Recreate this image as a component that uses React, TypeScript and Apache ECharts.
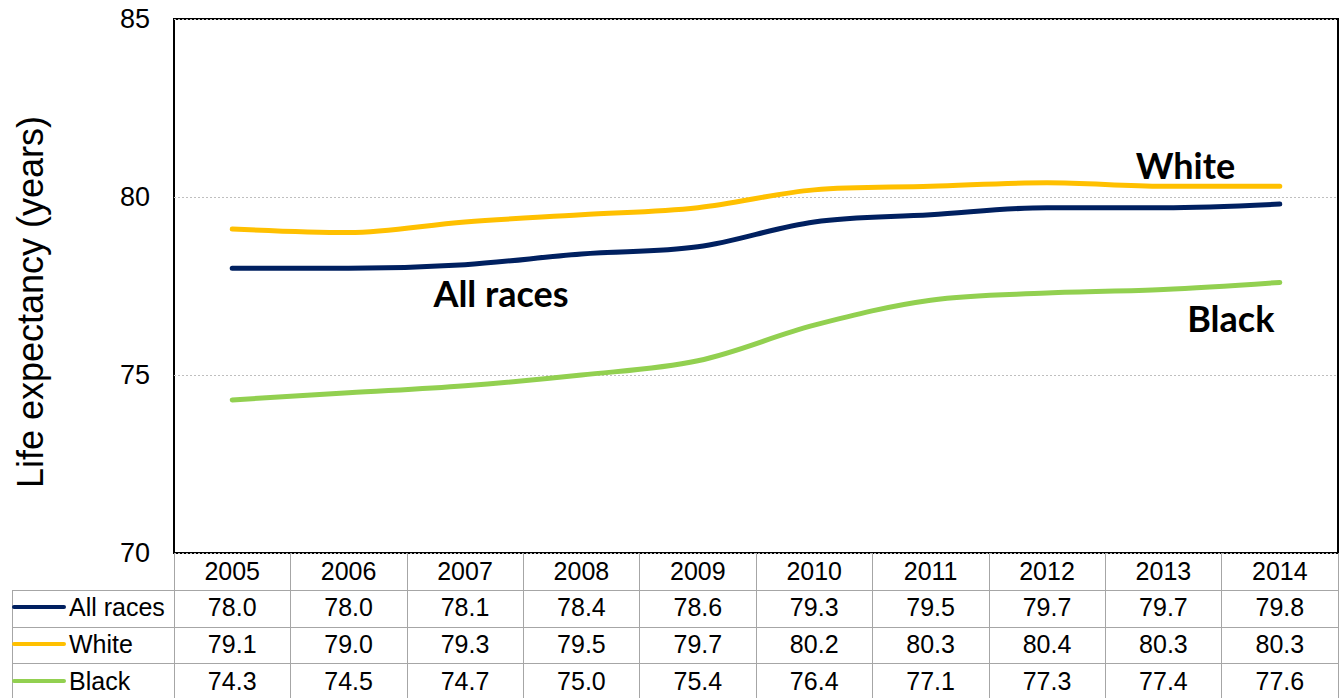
import React, { useEffect, useRef } from "react";
import * as echarts from "echarts";

const years = ["2005", "2006", "2007", "2008", "2009", "2010", "2011", "2012", "2013", "2014"];
const allRaces = [78.0, 78.0, 78.1, 78.4, 78.6, 79.3, 79.5, 79.7, 79.7, 79.8];
const white = [79.1, 79.0, 79.3, 79.5, 79.7, 80.2, 80.3, 80.4, 80.3, 80.3];
const black = [74.3, 74.5, 74.7, 75.0, 75.4, 76.4, 77.1, 77.3, 77.4, 77.6];
const seriesNames = ["All races", "White", "Black"];
const seriesColors = ["#002060", "#FFC000", "#92D050"];
const yTicks = { min: 70, max: 85, interval: 5 };
const yAxisTitle = "Life expectancy (years)";

const FONT = "'Liberation Sans', Arial, sans-serif";
const LABEL_FONT = "Lato, 'Open Sans', sans-serif";
const GRID = { left: 174, right: 6, top: 19, bottom: 145 };
const TABLE_LINE = "#a6a6a6";
const ROW_OFFSETS = [37, 74, 110];
const TABLE_FONT = 25;

export default function App() {
  const ref = useRef<HTMLDivElement>(null);
  useEffect(() => {
    if (!ref.current) return;
    const chart = echarts.init(ref.current, undefined, { renderer: "svg" });
    const rows = [allRaces, white, black];

    const rowAxes = rows.map((vals, i) => ({
      type: "category",
      data: years.map((_, j) => vals[j].toFixed(1)),
      position: "bottom",
      offset: ROW_OFFSETS[i],
      boundaryGap: true,
      axisLine: { show: true, lineStyle: { color: TABLE_LINE, width: 1 } },
      axisTick: { show: false },
      axisLabel: { fontSize: TABLE_FONT, color: "#000", fontFamily: FONT, margin: i === 2 ? 5 : 4, interval: 0 },
      splitLine: { show: false },
    }));

    const legendGraphics: any[] = [];
    const rowTops = [553 + 37, 553 + 74, 553 + 110];
    const rowCenters = [607, 644, 681];
    rowTops.forEach((y) => {
      legendGraphics.push({
        type: "line",
        shape: { x1: 12, y1: y + 0.5, x2: 174, y2: y + 0.5 },
        style: { stroke: TABLE_LINE, lineWidth: 1 },
      });
    });
    legendGraphics.push({
      type: "line",
      shape: { x1: 12.5, y1: 590, x2: 12.5, y2: 698 },
      style: { stroke: TABLE_LINE, lineWidth: 1 },
    });
    seriesNames.forEach((name, i) => {
      legendGraphics.push({
        type: "line",
        shape: { x1: 14, y1: rowCenters[i], x2: 64, y2: rowCenters[i] },
        style: { stroke: seriesColors[i], lineWidth: 4, lineCap: "round" },
      });
      legendGraphics.push({
        type: "text",
        x: 69,
        y: rowCenters[i],
        style: {
          text: name,
          fontSize: TABLE_FONT,
          fontFamily: FONT,
          fill: "#000",
          verticalAlign: "middle",
          align: "left",
        },
      });
    });
    legendGraphics.push({
      type: "text",
      x: 30,
      y: 302,
      rotation: Math.PI / 2,
      style: {
        text: yAxisTitle,
        fontSize: 36,
        fontFamily: FONT,
        fill: "#000",
        align: "center",
        verticalAlign: "middle",
      },
    });

    const labelPoints = [
      { name: "All races", coord: ["2007", 77.3], offset: [36, 0] },
      { name: "White", coord: ["2013", 80.9], offset: [22, 0] },
      { name: "Black", coord: ["2014", 76.6], offset: [-49, 0] },
    ];

    chart.setOption({
      animation: false,
      backgroundColor: "#fff",
      grid: {
        ...GRID,
        show: true,
        borderColor: "#000",
        borderWidth: 2,
        backgroundColor: "transparent",
        containLabel: false,
        outerBoundsMode: "none",
      },
      xAxis: [
        {
          type: "category",
          data: years,
          boundaryGap: true,
          position: "bottom",
          axisLine: { show: false },
          axisTick: {
            show: true,
            length: 145,
            lineStyle: { color: TABLE_LINE, width: 1 },
            interval: 0,
          },
          axisLabel: { fontSize: TABLE_FONT, color: "#000", fontFamily: FONT, margin: 5, interval: 0 },
          splitLine: { show: false },
        },
        ...rowAxes,
      ],
      yAxis: {
        type: "value",
        min: yTicks.min,
        max: yTicks.max,
        interval: yTicks.interval,
        axisLine: { show: false },
        axisTick: { show: false },
        axisLabel: { fontSize: 27, color: "#000", fontFamily: FONT, margin: 24 },
        splitLine: { show: true, lineStyle: { color: "#bfbfbf", type: [2, 2], width: 1 } },
      },
      graphic: legendGraphics,
      series: rows.map((vals, i) => ({
        type: "line",
        name: seriesNames[i],
        data: vals,
        xAxisIndex: 0,
        smooth: 0.35,
        symbol: "none",
        lineStyle: { color: seriesColors[i], width: 5, cap: "round" },
        itemStyle: { color: seriesColors[i] },
        z: 5 - i,
        markPoint:
          i === 0
            ? {
                symbol: "circle",
                symbolSize: 0,
                data: labelPoints.map((p) => ({
                  coord: p.coord,
                  value: p.name,
                  label: {
                    show: true,
                    formatter: p.name,
                    position: "inside",
                    offset: p.offset,
                    fontSize: 36,
                    fontWeight: "bold",
                    fontFamily: LABEL_FONT,
                    color: "#000",
                  },
                })),
              }
            : undefined,
      })),
    });
    return () => chart.dispose();
  }, []);
  return (
    <div
      ref={ref}
      style={{ position: "fixed", left: 0, top: 0, width: 1344, height: 698 }}
    />
  );
}
